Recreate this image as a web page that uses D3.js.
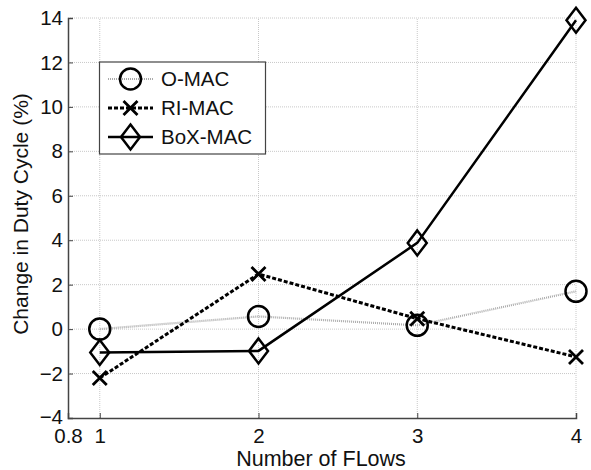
<!DOCTYPE html>
<html>
<head>
<meta charset="utf-8">
<script src="https://cdn.jsdelivr.net/npm/d3@7"></script>
<style>
    body { margin: 0; background: #fff; }
    text { font-family: "Liberation Sans", Arial, sans-serif; }
</style>
</head>
<body>
<div id="chart"></div>
<script>
var flows = [1, 2, 3, 4]
var omac = [0, 0.57, 0.17, 1.7]
var rimac = [-2.2, 2.48, 0.47, -1.25]
var boxmac = [-1.05, -0.98, 3.88, 13.9]
var xTicks = [0.8, 1, 2, 3, 4]
var yTicks = [-4, -2, 0, 2, 4, 6, 8, 10, 12, 14]

var width = 591, height = 470
var svg = d3.select('#chart').append('svg').attr('width', width).attr('height', height)

var x = d3.scaleLinear().domain([0.8, 4]).range([68, 576])
var y = d3.scaleLinear().domain([-4, 14]).range([418, 18])

// grid
svg.append('g').selectAll('line').data(yTicks.slice(1)).enter().append('line')
    .attr('x1', x(0.8)).attr('x2', x(4))
    .attr('y1', function (d) { return y(d) }).attr('y2', function (d) { return y(d) })
    .attr('stroke', '#c8c8c8').attr('stroke-width', 1).attr('stroke-dasharray', '1,1')
svg.append('g').selectAll('line').data(flows).enter().append('line')
    .attr('y1', y(-4)).attr('y2', y(14))
    .attr('x1', function (d) { return x(d) }).attr('x2', function (d) { return x(d) })
    .attr('stroke', '#c8c8c8').attr('stroke-width', 1).attr('stroke-dasharray', '1,1')

// axes
var xAxis = svg.append('g').attr('transform', 'translate(0,' + y(-4) + ')')
    .call(d3.axisBottom(x).tickValues(xTicks).tickSize(-5).tickPadding(10)
        .tickFormat(function (d) { return d === 0.8 ? '0.8' : d3.format('d')(d) }))
var yAxis = svg.append('g').attr('transform', 'translate(' + x(0.8) + ',0)')
    .call(d3.axisLeft(y).tickValues(yTicks).tickSize(-5).tickPadding(5))
;[xAxis, yAxis].forEach(function (a) {
    a.select('.domain').attr('stroke', '#444').attr('stroke-width', 1.5)
    a.selectAll('.tick line').attr('stroke', '#444')
    a.selectAll('text').attr('font-size', 20.5).attr('fill', '#111')
})
xAxis.selectAll('.tick text').attr('dy', '0.71em')
yAxis.selectAll('.tick text').filter(function (d) { return d === -4 }).attr('dy', '0.26em')

// labels
svg.append('text').attr('x', 321).attr('y', 466).attr('text-anchor', 'middle')
    .attr('font-size', 21.5).attr('fill', '#111').text('Number of FLows')
svg.append('text').attr('transform', 'translate(28,214) rotate(-90)').attr('text-anchor', 'middle')
    .attr('font-size', 21).attr('fill', '#111').text('Change in Duty Cycle (%)')

var series = [
    {name: 'O-MAC', values: omac, stroke: '#aaa', width: 2.2, dash: '1,1', marker: 'circle'},
    {name: 'RI-MAC', values: rimac, stroke: '#000', width: 3, dash: '4,2', marker: 'cross'},
    {name: 'BoX-MAC', values: boxmac, stroke: '#000', width: 2.5, dash: null, marker: 'diamond'}
]

function drawMarker(g, type, cx, cy) {
    if (type === 'circle') {
        g.append('circle').attr('cx', cx).attr('cy', cy).attr('r', 10.5)
            .attr('fill', 'none').attr('stroke', '#000').attr('stroke-width', 2.5)
    } else if (type === 'cross') {
        var s = 7
        g.append('path').attr('d', 'M' + (cx - s) + ',' + (cy - s) + 'L' + (cx + s) + ',' + (cy + s) +
            'M' + (cx - s) + ',' + (cy + s) + 'L' + (cx + s) + ',' + (cy - s))
            .attr('stroke', '#000').attr('stroke-width', 2.8).attr('fill', 'none')
    } else {
        var w = 9.5, h = 12.5
        g.append('path').attr('d', 'M' + cx + ',' + (cy - h) + 'L' + (cx + w) + ',' + cy +
            'L' + cx + ',' + (cy + h) + 'L' + (cx - w) + ',' + cy + 'Z')
            .attr('stroke', '#000').attr('stroke-width', 2.5).attr('fill', 'none')
    }
}

var line = d3.line().x(function (d, i) { return x(flows[i]) }).y(function (d) { return y(d) })
series.forEach(function (s) {
    var g = svg.append('g')
    g.append('path').datum(s.values).attr('d', line).attr('fill', 'none')
        .attr('stroke', s.stroke).attr('stroke-width', s.width)
        .attr('stroke-dasharray', s.dash)
    s.values.forEach(function (v, i) { drawMarker(g, s.marker, x(flows[i]), y(v)) })
})

// legend
var legend = svg.append('g')
legend.append('rect').attr('x', 99.5).attr('y', 62).attr('width', 166).attr('height', 92)
    .attr('fill', '#fff').attr('stroke', '#444').attr('stroke-width', 1.2)
series.forEach(function (s, i) {
    var ly = 79 + i * 29
    legend.append('line').attr('x1', 108).attr('x2', 153).attr('y1', ly).attr('y2', ly)
        .attr('stroke', s.stroke).attr('stroke-width', s.width).attr('stroke-dasharray', s.dash)
    drawMarker(legend, s.marker, 130.5, ly)
    legend.append('text').attr('x', 161).attr('y', ly + 7.3)
        .attr('font-size', 20.5).attr('fill', '#111').text(s.name)
})
</script>
</body>
</html>
